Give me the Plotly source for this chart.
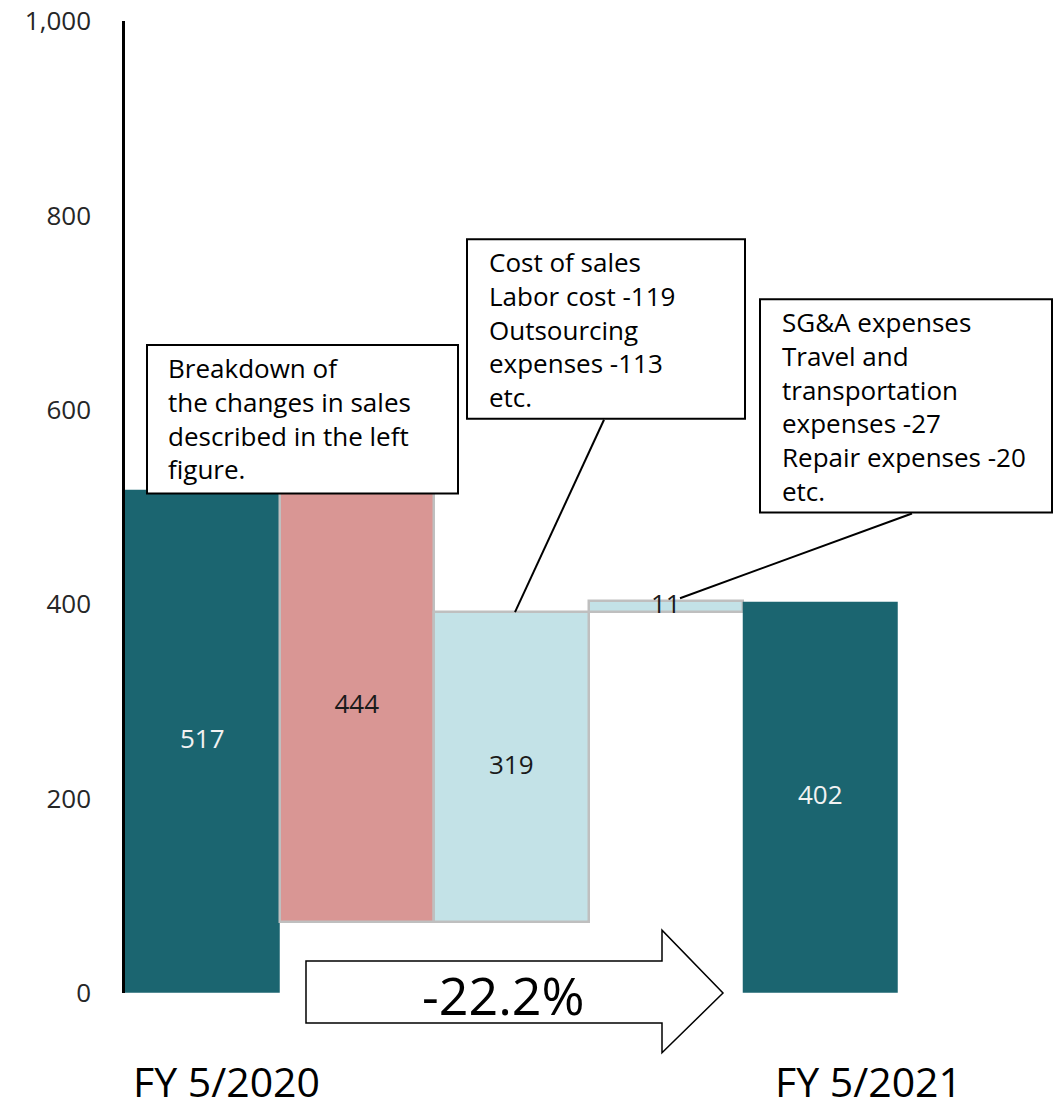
import plotly.graph_objects as go

# Operating income bridge, FY 5/2020 -> FY 5/2021
period_labels = ["FY 5/2020", "FY 5/2021"]
opening_value = 517
change_values = [-444, 319, 11]
closing_value = 402
change_label = "-22.2%"
y_ticks = [0, 200, 400, 600, 800, 1000]

TEAL = "#1b6570"
RED = "#d99694"
LIGHT = "#c3e2e7"
EDGE = "#bfbfbf"
FONT = "Open Sans"

# floating bar geometry derived from the values
bases, heights, colors, edges = [0], [opening_value], [TEAL], ["rgba(0,0,0,0)"]
running = opening_value
for c in change_values:
    bases.append(running + c if c < 0 else running)
    heights.append(abs(c))
    colors.append(RED if c < 0 else LIGHT)
    edges.append(EDGE)
    running += c
bases.append(0)
heights.append(closing_value)
colors.append(TEAL)
edges.append("rgba(0,0,0,0)")
xs = list(range(len(heights)))

label_colors = ["#f2f2f2"] + ["#1a1a1a"] * len(change_values) + ["#f2f2f2"]
centers = [b + h / 2 for b, h in zip(bases, heights)]

W, H = 1054, 1110
ML, MR, MT, MB = 125, 2, 18, 117
PW, PH = W - ML - MR, H - MT - MB


def px(x):
    return (x - ML) / PW


def py(y):
    return (H - MB - y) / PH


fig = go.Figure()
fig.add_trace(go.Bar(
    x=xs, y=heights, base=bases, width=1,
    marker=dict(color=colors, line=dict(color=edges, width=2.5)),
    hoverinfo="skip", showlegend=False,
))
fig.add_trace(go.Scatter(
    x=xs, y=centers, mode="text", text=[str(h) for h in heights],
    textfont=dict(family=FONT, size=26, color=label_colors),
    cliponaxis=False, hoverinfo="skip", showlegend=False,
))

shapes = []
annotations = []

# callout boxes: frame (left, top, right, bottom), text origin (left, top), lines
boxes = [
    ((147, 343, 458, 492), (167, 347),
     ["Breakdown of", "the changes in sales", "described in the left", "figure."]),
    ((467, 237, 745, 417), (488, 241),
     ["Cost of sales", "Labor cost -119", "Outsourcing", "expenses -113", "etc."]),
    ((760, 297, 1052, 511), (781, 301),
     ["SG&A expenses", "Travel and", "transportation", "expenses -27",
      "Repair expenses -20", "etc."]),
]
# leader lines from boxes to bars
leaders = [((604, 418), (515, 611)), ((912, 512), (680, 597))]
for (a, b) in leaders:
    shapes.append(dict(type="line", xref="paper", yref="paper",
                       x0=px(a[0]), y0=py(a[1]), x1=px(b[0]), y1=py(b[1]),
                       line=dict(color="black", width=2), layer="above"))
for (x0, y0, x1, y1), (tx, ty), lines in boxes:
    shapes.append(dict(type="rect", xref="paper", yref="paper",
                       x0=px(x0), y0=py(y1), x1=px(x1), y1=py(y0),
                       fillcolor="white", line=dict(color="black", width=2),
                       layer="above"))
    annotations.append(dict(xref="paper", yref="paper", x=px(tx), y=py(ty),
                            xanchor="left", yanchor="top", align="left",
                            showarrow=False, text="<br>".join(lines),
                            borderpad=0,
                            font=dict(family=FONT, size=26, color="black")))

# block arrow between the two periods
pts = [(306, 961), (662, 961), (662, 930), (723, 993), (662, 1053),
       (662, 1023), (306, 1023)]
path = "M " + " L ".join(f"{px(x):.5f},{py(y):.5f}" for x, y in pts) + " Z"
shapes.append(dict(type="path", xref="paper", yref="paper", path=path,
                   fillcolor="white", line=dict(color="black", width=1.5),
                   layer="above"))
annotations.append(dict(xref="paper", yref="paper", x=px(503), y=py(995),
                        xanchor="center", yanchor="middle", showarrow=False,
                        text=change_label,
                        font=dict(family=FONT, size=52, color="black")))

# period labels under the first and last bars
for xi, lab, shift in [(xs[0], period_labels[0], 24), (xs[-1], period_labels[1], 48)]:
    annotations.append(dict(xref="x", yref="paper", x=xi, y=py(1081),
                            xshift=shift, xanchor="center", yanchor="middle",
                            showarrow=False, text=lab,
                            font=dict(family=FONT, size=41, color="black")))

fig.update_layout(
    width=W, height=H, autosize=False,
    margin=dict(l=ML, r=MR, t=MT, b=MB),
    paper_bgcolor="white", plot_bgcolor="white",
    bargap=0, shapes=shapes, annotations=annotations,
    xaxis=dict(range=[-0.5, 5.5], visible=False, fixedrange=True),
    yaxis=dict(range=[0, 1000], tickvals=y_ticks, tickformat=",",
               showgrid=False, zeroline=False, showline=True,
               linecolor="black", linewidth=2.5,
               ticks="outside", ticklen=26, tickcolor="rgba(0,0,0,0)",
               ticklabeloverflow="allow",
               tickfont=dict(family=FONT, size=26, color="#262626"),
               fixedrange=True),
)

fig.write_html("out.html")
